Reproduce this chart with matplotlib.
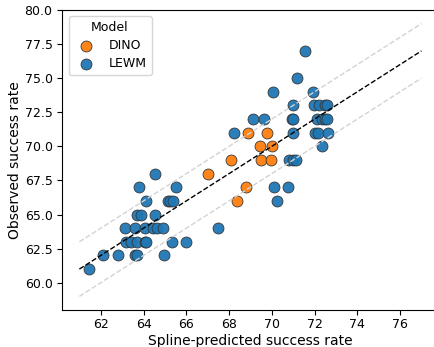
import matplotlib
matplotlib.use("Agg")
import matplotlib.pyplot as plt
import numpy as np

# DINO model: spline-predicted vs observed success rate
dino_pred = [67.02, 68.08, 68.39, 68.80, 68.88, 69.47, 69.48, 69.79, 69.95, 70.03]
dino_obs = [68, 69, 66, 67, 71, 70, 69, 71, 69, 70]

# LEWM model
lewm_pred = [61.47,
             62.12, 62.82, 63.60, 63.68, 64.96,
             63.18, 63.40, 63.71, 64.07, 64.13, 65.32, 65.97,
             63.15, 63.62, 64.07, 64.43, 64.62, 64.93, 67.50,
             63.71, 63.89, 64.54,
             64.13, 65.13, 65.24, 65.37, 70.26,
             63.80, 65.52, 70.12, 70.78,
             64.55,
             70.82, 71.01, 71.13,
             72.37,
             68.22, 70.98, 72.02, 72.18, 72.65,
             69.14, 69.64, 70.93, 71.01, 72.10, 72.34, 72.49, 72.57,
             71.01, 71.99, 72.21, 72.49, 72.57,
             70.07, 71.94,
             71.20,
             71.57]
lewm_obs = [61,
            62, 62, 62, 62, 62,
            63, 63, 63, 63, 63, 63, 63,
            64, 64, 64, 64, 64, 64, 64,
            65, 65, 65,
            66, 66, 66, 66, 66,
            67, 67, 67, 67,
            68,
            69, 69, 69,
            70,
            71, 71, 71, 71, 71,
            72, 72, 72, 72, 72, 72, 72, 72,
            73, 73, 73, 73, 73,
            74, 74,
            75,
            77]

ref_range = [61, 77]
band = 2

fig = plt.figure(figsize=(4.34, 3.47), dpi=100)
ax = fig.add_axes([0.1435, 0.1066, 0.867, 0.8646])

ax.scatter(dino_pred, dino_obs, s=62, c="#ff7f0e", edgecolors="#333333",
           linewidths=0.6, alpha=0.95, label="DINO", zorder=2)
ax.scatter(lewm_pred, lewm_obs, s=62, c="#1f77b4", edgecolors="#333333",
           linewidths=0.6, alpha=0.95, label="LEWM", zorder=2)

r = np.array(ref_range, dtype=float)
ax.plot(r, r, "--", color="black", lw=1.0, zorder=3)
ax.plot(r, r + band, "--", color="lightgray", lw=1.0, zorder=3)
ax.plot(r, r - band, "--", color="lightgray", lw=1.0, zorder=3)

ax.set_xlim(60.2, 77.8)
ax.set_ylim(58, 80)
ax.set_xticks([62, 64, 66, 68, 70, 72, 74, 76])
ax.set_yticks([60.0, 62.5, 65.0, 67.5, 70.0, 72.5, 75.0, 77.5, 80.0])
ax.yaxis.set_major_formatter(matplotlib.ticker.FormatStrFormatter("%.1f"))
ax.tick_params(labelsize=9)
ax.tick_params(axis="x", pad=2.5)

ax.set_xlabel("Spline-predicted success rate", fontsize=10, labelpad=2)
ax.set_ylabel("Observed success rate", fontsize=10, labelpad=2)
ax.legend(title="Model", loc="upper left", fontsize=9, title_fontsize=9,
          labelspacing=0.4)

fig.savefig("out.png", dpi=100)
